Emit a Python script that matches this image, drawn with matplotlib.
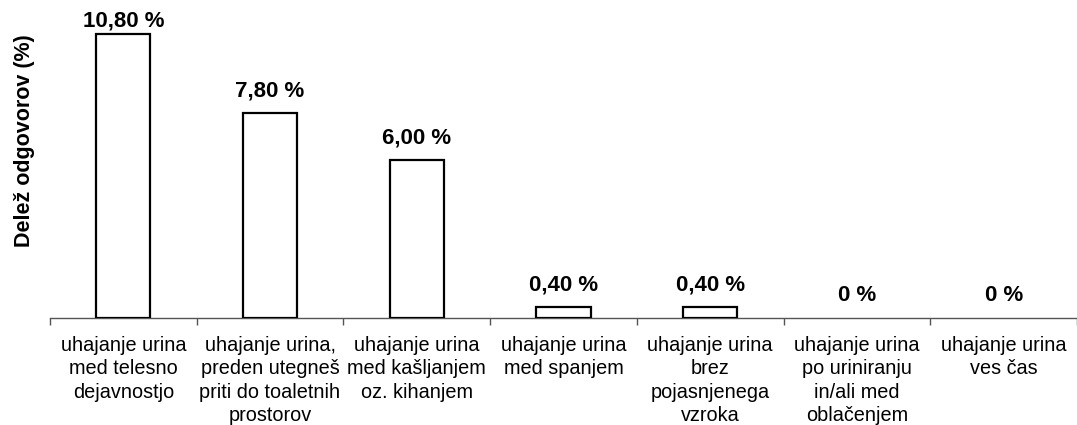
import matplotlib.pyplot as plt
import numpy as np

plt.rcParams['font.family'] = ['Liberation Sans', 'DejaVu Sans']

# podatki
kategorije = [
    "uhajanje urina\nmed telesno\ndejavnostjo",
    "uhajanje urina,\npreden utegneš\npriti do toaletnih\nprostorov",
    "uhajanje urina\nmed kašljanjem\noz. kihanjem",
    "uhajanje urina\nmed spanjem",
    "uhajanje urina\nbrez\npojasnjenega\nvzroka",
    "uhajanje urina\npo uriniranju\nin/ali med\noblačenjem",
    "uhajanje urina\nves čas",
]
deleži = [10.8, 7.8, 6.0, 0.4, 0.4, 0, 0]
oznake = ["10,80 %", "7,80 %", "6,00 %", "0,40 %", "0,40 %", "0 %", "0 %"]

fig = plt.figure(figsize=(10.77, 4.25), dpi=100)
ax = fig.add_axes([0.0464, 0.252, 0.9536, 0.743])

x = np.arange(len(kategorije))
robovi = [1.6 if v > 0 else 0 for v in deleži]
ax.bar(x, deleži, width=0.37, color='white', edgecolor='black', linewidth=robovi, zorder=3)

# oznake nad stolpci; najvišja ostane znotraj risalnega območja
for xi, v, t in zip(x, deleži, oznake):
    ax.text(xi, min(v + 0.44, 10.9), t, ha='center', va='bottom', fontsize=16, fontweight='bold')

ax.set_xlim(-0.5, 6.44)
ax.set_ylim(0, 12)

# oznake kategorij na sredini, kljukice med kategorijami
ax.set_xticks(x)
ax.set_xticklabels(kategorije, fontsize=14.3, linespacing=1.3)
ax.tick_params(axis='x', which='major', length=0, pad=13)
ax.set_xticks(np.arange(-0.5, 7, 1), minor=True)
ax.tick_params(axis='x', which='minor', length=5, width=1, color='#555555', direction='out')

ax.set_yticks([])
for s in ['left', 'top', 'right']:
    ax.spines[s].set_visible(False)
ax.spines['bottom'].set_color('#555555')
ax.spines['bottom'].set_linewidth(1)

fig.text(0.023, 0.67, "Delež odgovorov (%)", rotation=90, ha='center', va='center',
         fontsize=15.5, fontweight='bold')

fig.savefig('out.png', dpi=100)
